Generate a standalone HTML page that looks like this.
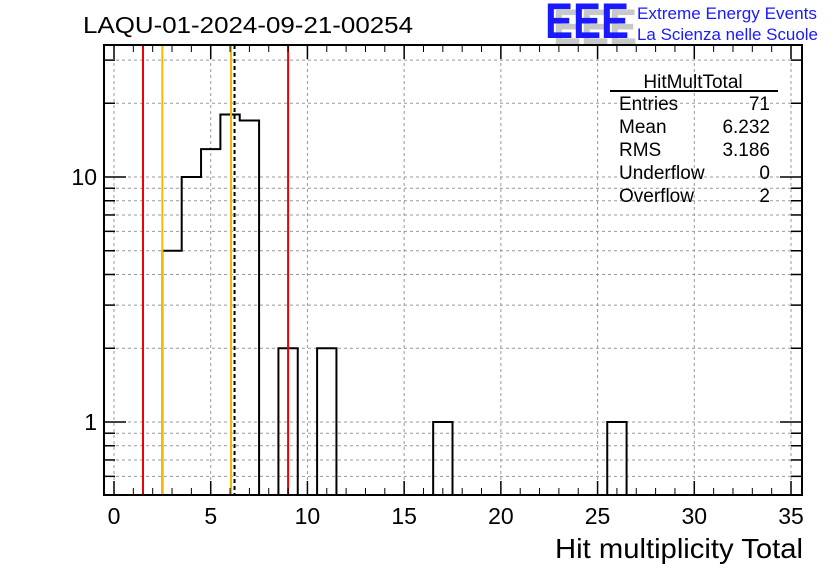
<!DOCTYPE html>
<html><head><meta charset="utf-8"><style>
body{margin:0;background:#fff;}
svg{display:block;font-family:"Liberation Sans",Arial,sans-serif;}
</style></head><body>
<svg id="c" width="836" height="572">
<text x="83" y="33" font-size="23" textLength="330" lengthAdjust="spacingAndGlyphs">LAQU-01-2024-09-21-00254</text>
<g font-weight="bold" font-size="50" font-family="Liberation Sans, sans-serif">
<text x="553" y="44" fill="#c8c8c8" textLength="84" lengthAdjust="spacingAndGlyphs">EEE</text>
<text x="545" y="38" fill="#1a1aff" textLength="84" lengthAdjust="spacingAndGlyphs">EEE</text>
</g>
<text x="637" y="19" font-size="17" fill="#1a1aff" textLength="180" lengthAdjust="spacingAndGlyphs">Extreme Energy Events</text>
<text x="637" y="40" font-size="17" fill="#1a1aff" textLength="181" lengthAdjust="spacingAndGlyphs">La Scienza nelle Scuole</text>
<g id="grid"></g><g id="bars"></g><g id="lines"></g><g id="axes"></g>
<rect x="104" y="45" width="698" height="450" fill="none" stroke="#000" stroke-width="2"/>
<g font-size="19">
<text x="693" y="88" text-anchor="middle">HitMultTotal</text>
<line x1="610" y1="91" x2="778" y2="91" stroke="#000" stroke-width="2"/>
<text x="619" y="110">Entries</text><text x="770" y="110" text-anchor="end">71</text>
<text x="619" y="133">Mean</text><text x="770" y="133" text-anchor="end">6.232</text>
<text x="619" y="156">RMS</text><text x="770" y="156" text-anchor="end">3.186</text>
<text x="619" y="179">Underflow</text><text x="770" y="179" text-anchor="end">0</text>
<text x="619" y="202">Overflow</text><text x="770" y="202" text-anchor="end">2</text>
</g>
<text x="803" y="558" font-size="28" text-anchor="end" textLength="248" lengthAdjust="spacingAndGlyphs">Hit multiplicity Total</text>
</svg>
<script>
const binCenters=[3,4,5,6,7,9,11,17,26];
const binCounts=[5,10,13,18,17,2,2,1,1];
const xTicks=[0,5,10,15,20,25,30,35];
const yTicks=[1,10];
const vLines=[{x:1.5,c:"#e00"},{x:2.5,c:"#f5b800"},{x:6.05,c:"#f5b800"},{x:6.232,c:"#000",d:"4,3"},{x:9.0,c:"#e00"}];
const L=104,R=802,T=45,B=495;
const X=v=>114+v*19.343;
const Y=v=>422-245*Math.log10(v);
const ns="http://www.w3.org/2000/svg";
function mk(p,t,a){const e=document.createElementNS(ns,t);for(const k in a)e.setAttribute(k,a[k]);p.appendChild(e);return e;}
const g=document.getElementById('grid'),ax=document.getElementById('axes'),bg=document.getElementById('bars'),lg=document.getElementById('lines');
xTicks.forEach(t=>{
 const l=mk(g,'line',{x1:X(t),x2:X(t),y1:T,y2:B,stroke:'#999','stroke-dasharray':'3,3'});
 
 
 mk(ax,'line',{x1:X(t),x2:X(t),y1:B,y2:B-14,stroke:'#000','stroke-width':1.5});
 mk(ax,'line',{x1:X(t),x2:X(t),y1:T,y2:T+14,stroke:'#000','stroke-width':1.5});
 const tx=mk(ax,'text',{x:X(t),y:524,'font-size':23,'text-anchor':'middle'});tx.textContent=t;
 
 
});
for(let t=0;t<=35;t++){if(t%5){mk(ax,'line',{x1:X(t),x2:X(t),y1:B,y2:B-7,stroke:'#000'});mk(ax,'line',{x1:X(t),x2:X(t),y1:T,y2:T+7,stroke:'#000'});}}
[0.5,0.6,0.7,0.8,0.9,1,2,3,4,5,6,7,8,9,10,20,30].forEach(v=>{
 const y=Y(v);if(y<T||y>B)return;
 const l=mk(g,'line',{x1:L,x2:R,y1:y,y2:y,stroke:'#999','stroke-dasharray':'3,3'});
 
 
 const major=yTicks.includes(v),len=major?22:11;
 mk(ax,'line',{x1:L,x2:L+len,y1:y,y2:y,stroke:'#000','stroke-width':1.5});
 mk(ax,'line',{x1:R,x2:R-len,y1:y,y2:y,stroke:'#000','stroke-width':1.5});
});
yTicks.forEach(v=>{const tx=mk(ax,'text',{x:97,y:Y(v)+8,'font-size':23,'text-anchor':'end'});tx.textContent=v;
 
 });
let pts=[],prevEnd=null;
binCenters.forEach((c,i)=>{
 const x0=X(c-0.5),x1=X(c+0.5),y=Y(binCounts[i]);
 if(prevEnd===null||Math.abs(prevEnd-(c-0.5))>1e-6){if(pts.length){pts.push([X(prevEnd),B]);draw(pts);pts=[];}pts.push([x0,B]);}
 pts.push([x0,y],[x1,y]);prevEnd=c+0.5;
});
pts.push([X(prevEnd),B]);draw(pts);
function draw(p){const e=mk(bg,'polyline',{points:p.map(q=>q.join(',')).join(' '),fill:'none',stroke:'#000','stroke-width':2});
 
 }
vLines.forEach(v=>{const a={x1:X(v.x),x2:X(v.x),y1:T,y2:B,stroke:v.c,'stroke-width':2};if(v.d)a['stroke-dasharray']=v.d;
 const e=mk(lg,'line',a);
 
 });
</script>
</body></html>
